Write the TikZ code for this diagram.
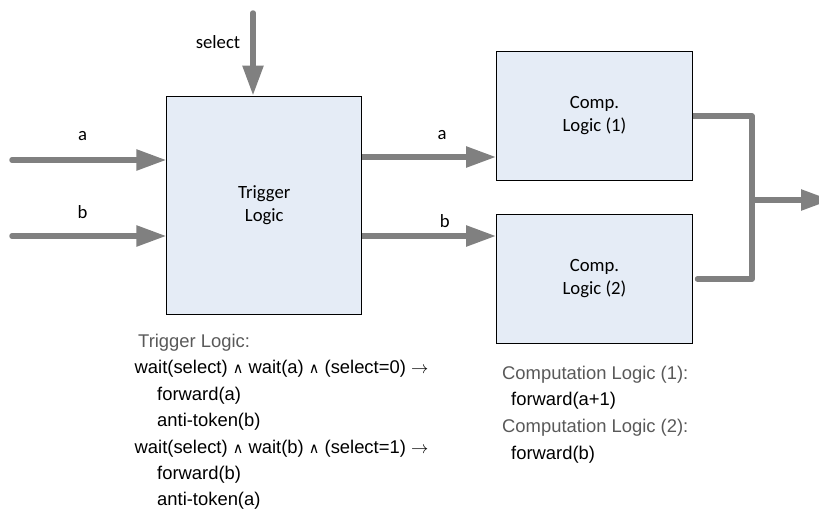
\documentclass[tikz,border=0pt]{standalone}
\usepackage{fontspec}
\setmainfont{Carlito}
\newfontfamily\arialfont{Liberation Sans}
\newfontfamily\symfont{DejaVu Sans}
\usetikzlibrary{arrows.meta}
\pgfdeclarelayer{wires}
\pgfsetlayers{wires,main}
\definecolor{boxfill}{RGB}{229,236,246}
\definecolor{wiregray}{RGB}{128,128,128}
\definecolor{headgray}{RGB}{89,89,89}
\newcommand{\andop}{{\symfont\fontsize{14.5}{14.5}\selectfont ∧}}
\newcommand{\thenop}{$\rightarrow$}
\tikzset{
  box/.style={draw=black, line width=0.9pt, fill=boxfill, inner sep=0pt,
    align=center, font=\fontsize{18.7}{22.5}\selectfont},
  wire/.style={draw=wiregray, line width=5.5pt, line cap=round, line join=round},
  flow/.style={wire, -{Triangle[length=30pt,width=20pt]}},
  lbl/.style={font=\fontsize{18.7}{22}\selectfont, inner sep=0pt},
  code/.style={font=\arialfont\fontsize{18.4}{25}\selectfont, anchor=base west, inner sep=0pt},
  codehead/.style={code, text=headgray}
}
\begin{document}
\begin{tikzpicture}[x=1pt,y=-1pt]
\clip (0,0) rectangle (819,514);

% processing blocks
\node[box, minimum width=195pt, minimum height=218pt] (trig) at (264.3,205) {Trigger\\Logic};
\node[box, minimum width=196pt, minimum height=129pt] (c1) at (594.5,115.5) {Comp.\\Logic (1)};
\node[box, minimum width=196pt, minimum height=129pt] (c2) at (594.5,278.5) {Comp.\\Logic (2)};

% free ends and bends of the wires
\coordinate (selin) at (253,13);
\coordinate (ain) at (12,160);
\coordinate (bin) at (12,236);
\coordinate (aout) at (trig.east |- 0,157);
\coordinate (bout) at (trig.east |- 0,236);
\coordinate (c1o) at (c1.east |- 0,116);
\coordinate (c2o) at (697.5,279);
\coordinate (jtop) at (752,116);
\coordinate (jbot) at (752,279);
\coordinate (jmid) at (752,200);
\coordinate (res) at (831,200);

\begin{pgfonlayer}{wires}
\draw[flow] (selin) -- (selin |- trig.north);
\draw[flow] (ain) -- (ain -| trig.west);
\draw[flow] (bin) -- (bin -| trig.west);
\draw[flow] (aout) -- (aout -| c1.west);
\draw[flow] (bout) -- (bout -| c2.west);
\draw[wire] (c1o) -- (jtop) -- (jbot) -- (c2o);
\draw[flow] (jmid) -- (res);
\end{pgfonlayer}

% signal names
\node[lbl] (lsel) at (218,42.5) {select};
\node[lbl] (lain) at (82.5,136.5) {a};
\node[lbl] (lbin) at (82.5,212.5) {b};
\node[lbl] (laout) at (442.2,134.7) {a};
\node[lbl] (lbout) at (444.7,221.5) {b};

% trigger rules
\node[codehead] (t0) at (138,347.5) {Trigger Logic:};
\node[code] (t1) at (134.5,373.9) {wait(select) \andop{} wait(a) \andop{} (select=0) \thenop};
\node[code] (t2) at (157,400.3) {forward(a)};
\node[code] (t3) at (157,426.7) {anti-token(b)};
\node[code] (t4) at (134.5,453.1) {wait(select) \andop{} wait(b) \andop{} (select=1) \thenop};
\node[code] (t5) at (157,479.5) {forward(b)};
\node[code] (t6) at (157,505.9) {anti-token(a)};

% computation rules
\node[codehead] (k0) at (502,379.2) {Computation Logic (1):};
\node[code] (k1) at (511,405.8) {forward(a+1)};
\node[codehead] (k2) at (502,432.5) {Computation Logic (2):};
\node[code] (k3) at (511,459.2) {forward(b)};
\end{tikzpicture}
\end{document}
